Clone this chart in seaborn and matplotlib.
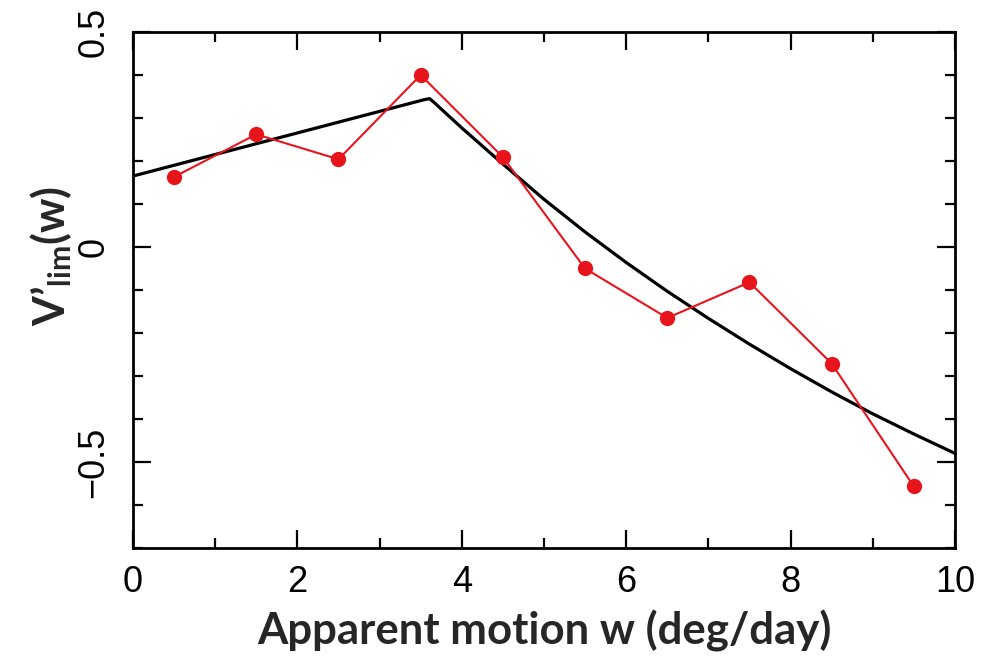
import matplotlib
matplotlib.use("Agg")
import matplotlib.pyplot as plt
from matplotlib.ticker import MultipleLocator
import seaborn as sns
import pandas as pd

# Observed values (red points)
w_obs = [0.5, 1.5, 2.5, 3.5, 4.5, 5.5, 6.5, 7.5, 8.5, 9.5]
v_obs = [0.163, 0.262, 0.204, 0.400, 0.209, -0.050, -0.165, -0.082, -0.271, -0.557]

# Fitted model curve (black)
w_fit = [0.0, 3.55, 3.61, 3.67, 4.0, 4.5, 5.0, 5.5, 6.0, 6.5, 7.0, 7.5, 8.0, 8.5, 9.0, 9.5, 10.0]
v_fit = [0.165, 0.343, 0.345, 0.335, 0.277, 0.193, 0.111, 0.035, -0.036, -0.103, -0.166,
         -0.226, -0.283, -0.337, -0.388, -0.435, -0.480]

y_ticks = [-0.5, 0, 0.5]
y_tick_labels = ["\u22120.5", "0", "0.5"]
x_label = "Apparent motion w (deg/day)"
y_label = "V\u2019$_{\\mathbf{lim}}$(w)"

sns.set_theme(style="ticks")
plt.rcParams["font.family"] = ["Liberation Sans", "DejaVu Sans"]
plt.rcParams["mathtext.fontset"] = "custom"
plt.rcParams["mathtext.rm"] = "Lato:bold"
plt.rcParams["mathtext.bf"] = "Lato:bold"

fig = plt.figure(figsize=(9.85, 6.63), dpi=100)
ax = fig.add_axes([0.135, 0.1735, 0.9695 - 0.135, 0.9517 - 0.1735])

df_fit = pd.DataFrame({"w": w_fit, "v": v_fit})
df_obs = pd.DataFrame({"w": w_obs, "v": v_obs})

sns.lineplot(data=df_fit, x="w", y="v", ax=ax, color="black", linewidth=2.3,
             sort=False, estimator=None)
sns.lineplot(data=df_obs, x="w", y="v", ax=ax, color="#e8141c", linewidth=1.5,
             marker="o", markersize=11, markeredgewidth=0, estimator=None)

ax.set_xlim(0, 10)
ax.set_ylim(-0.7, 0.5)
ax.xaxis.set_major_locator(MultipleLocator(2))
ax.xaxis.set_minor_locator(MultipleLocator(1))
ax.set_yticks(y_ticks)
ax.set_yticklabels(y_tick_labels)
ax.yaxis.set_minor_locator(MultipleLocator(0.1))

ax.tick_params(axis="both", which="both", direction="in", top=True, right=True,
               colors="black", width=1.6)
ax.tick_params(axis="both", which="major", length=13, labelsize=26)
ax.tick_params(axis="both", which="minor", length=7)
ax.tick_params(axis="x", which="major", pad=12)
ax.tick_params(axis="y", which="major", pad=28)
for lab in ax.get_yticklabels():
    lab.set_rotation(90)
    lab.set_va("center")
    lab.set_ha("center")

for sp in ax.spines.values():
    sp.set_linewidth(2.0)
    sp.set_color("black")

ax.set_xlabel(x_label, fontsize=31.5, fontweight="bold", family=["Lato", "DejaVu Sans"], labelpad=7)
ax.set_ylabel(y_label, fontsize=31, fontweight="bold", family=["Lato", "DejaVu Sans"])
ax.yaxis.set_label_coords(-0.072, 0.565)

fig.savefig("out.png", dpi=100, facecolor="white")
